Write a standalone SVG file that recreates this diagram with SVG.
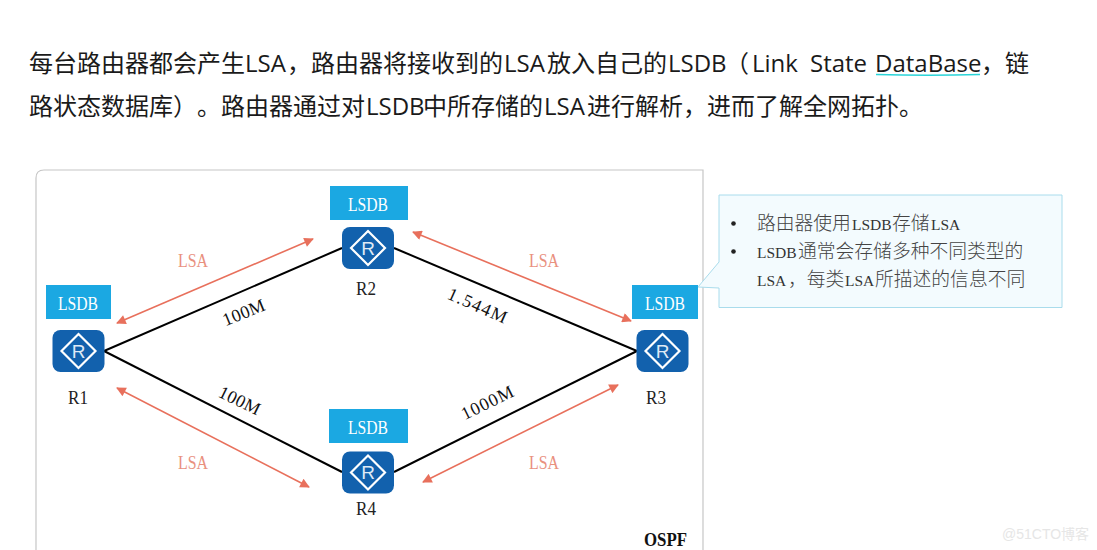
<svg xmlns="http://www.w3.org/2000/svg" width="1097" height="550" viewBox="0 0 1097 550">
<style>
text{text-spacing-trim:space-all}
.h{font-family:"Open Sans","Noto Sans CJK SC",sans-serif;font-size:24px;fill:#1a1a1a}
.s{font-family:"Liberation Serif","Noto Sans CJK SC",serif}
.lb{font-size:19px;fill:#fff;text-anchor:middle}
.n{font-size:19px;fill:#222;text-anchor:middle}
.l{font-size:18px;fill:#111;text-anchor:middle}
.a{font-size:19px;fill:#e9917f;text-anchor:middle}
.c{font-size:18.8px;fill:#444;font-weight:300}
.cl{font-size:15.500px;fill:#333;font-weight:400}
.box{fill:#1ba8e2}
.r{fill:#1261ad}
.d{fill:none;stroke:#fff;stroke-width:2.2}
.g{font-family:"Liberation Sans",sans-serif;font-size:19px;fill:#dfeaf5;text-anchor:middle}
.link{stroke:#000;stroke-width:2;fill:none}
.lsa{stroke:#e8705c;stroke-width:1.6;fill:none;marker-start:url(#m);marker-end:url(#m)}
</style>
<defs>
<marker id="m" viewBox="0 0 10 10" refX="9" refY="5" markerWidth="7" markerHeight="6" orient="auto-start-reverse" markerUnits="strokeWidth"><path d="M0 0L10 5L0 10z" fill="#e8705c"/></marker>
<g id="router"><rect x="-26" y="-21" width="52" height="42" rx="8" class="r"/><path d="M0-17L17 0L0 17L-17 0z" class="d"/><text y="6.500" class="g">R</text></g>
</defs>
<rect width="1097" height="550" fill="#fff"/>
<g id="heading">
<text class="h" y="72"><tspan x="29">每台路由器都会产生</tspan><tspan x="245">LSA</tspan><tspan x="287">，路由器将接收到的</tspan><tspan x="504">LSA</tspan><tspan x="547">放入自己的</tspan><tspan x="668">LSDB</tspan><tspan x="725">（</tspan><tspan x="752">Link</tspan><tspan x="810">State</tspan><tspan x="875">DataBase</tspan><tspan x="981">，</tspan><tspan x="1005">链</tspan></text>
<text class="h" y="115"><tspan x="29">路状态数据库）。</tspan><tspan x="221">路由器通过对</tspan><tspan x="366">LSDB</tspan><tspan x="423">中所存储的</tspan><tspan x="544">LSA</tspan><tspan x="587">进行解析，进而了解全网拓扑。</tspan></text>
<path d="M876 74.500Q928 76 980 74.500" fill="none" stroke="#2ad4d8" stroke-width="1.600"/>
</g>
<path id="frame" d="M36 550V178Q36 170 44 170H703V550" fill="#fff" stroke="#c6c6c6" stroke-width="1.200"/>
<g id="connectors">
<path class="link" d="M104 351L342 248"/>
<path class="link" d="M104 351L342 472"/>
<path class="link" d="M394 248L637 351"/>
<path class="link" d="M394 472L637 351"/>
<path class="lsa" d="M117 323L313 239"/>
<path class="lsa" d="M117 388L309 487"/>
<path class="lsa" d="M413 232L631 321"/>
<path class="lsa" d="M423 482L618 385"/>
</g>
<g id="link-labels" class="s">
<text class="l" transform="translate(246 318) rotate(-22)" textLength="44">100M</text>
<text class="l" transform="translate(237 406) rotate(26)" textLength="44">100M</text>
<text class="l" transform="translate(475 311) rotate(24)" textLength="63">1.544M</text>
<text class="l" transform="translate(490 408) rotate(-26)" textLength="56">1000M</text>
<text class="a" x="193" y="267" textLength="30" lengthAdjust="spacingAndGlyphs">LSA</text>
<text class="a" x="544" y="267" textLength="30" lengthAdjust="spacingAndGlyphs">LSA</text>
<text class="a" x="193" y="469" textLength="30" lengthAdjust="spacingAndGlyphs">LSA</text>
<text class="a" x="544" y="469" textLength="30" lengthAdjust="spacingAndGlyphs">LSA</text>
</g>
<g id="R1" class="s"><rect x="46" y="285" width="65" height="34" class="box"/><text class="lb" x="78" y="310" textLength="40" lengthAdjust="spacingAndGlyphs">LSDB</text><use href="#router" x="78.500" y="351"/><text class="n" x="78" y="404" textLength="20" lengthAdjust="spacingAndGlyphs">R1</text></g>
<g id="R2" class="s"><rect x="330" y="186" width="78" height="34" class="box"/><text class="lb" x="368" y="211" textLength="40" lengthAdjust="spacingAndGlyphs">LSDB</text><use href="#router" x="368" y="248"/><text class="n" x="366" y="295" textLength="20" lengthAdjust="spacingAndGlyphs">R2</text></g>
<g id="R3" class="s"><rect x="632" y="285" width="66" height="34" class="box"/><text class="lb" x="665" y="310" textLength="40" lengthAdjust="spacingAndGlyphs">LSDB</text><use href="#router" x="662.500" y="351"/><text class="n" x="656" y="404" textLength="20" lengthAdjust="spacingAndGlyphs">R3</text></g>
<g id="R4" class="s"><rect x="329" y="409" width="79" height="34" class="box"/><text class="lb" x="368" y="434" textLength="40" lengthAdjust="spacingAndGlyphs">LSDB</text><use href="#router" x="368" y="472.500"/><text class="n" x="366" y="515" textLength="20" lengthAdjust="spacingAndGlyphs">R4</text></g>
<g id="callout" class="s">
<path d="M719 195H1062V307.500H719V288L698 287L719 262Z" fill="#f3fbfe" stroke="#a9dcec" stroke-width="1"/>
<circle cx="733.500" cy="223.500" r="2.300" fill="#222"/><circle cx="733.500" cy="251.500" r="2.300" fill="#222"/>
<text class="c" y="230"><tspan x="757">路由器使用</tspan><tspan class="cl" x="852">LSDB</tspan><tspan x="892">存储</tspan><tspan class="cl" x="931">LSA</tspan></text>
<text class="c" y="258"><tspan class="cl" x="757">LSDB</tspan><tspan x="798">通常会存储多种不同类型的</tspan></text>
<text class="c" y="286"><tspan class="cl" x="757">LSA</tspan><tspan x="788">，每类</tspan><tspan class="cl" x="845">LSA</tspan><tspan x="875">所描述的信息不同</tspan></text>
</g>
<text id="ospf" class="s" x="644" y="546" textLength="43" lengthAdjust="spacingAndGlyphs" style="font-size:19px;font-weight:bold;fill:#111">OSPF</text>
<text id="watermark" x="1002" y="539" style="font-family:'Liberation Sans','Noto Sans CJK SC',sans-serif;font-size:14px;fill:#e6e6e6">@51CTO博客</text>
</svg>
